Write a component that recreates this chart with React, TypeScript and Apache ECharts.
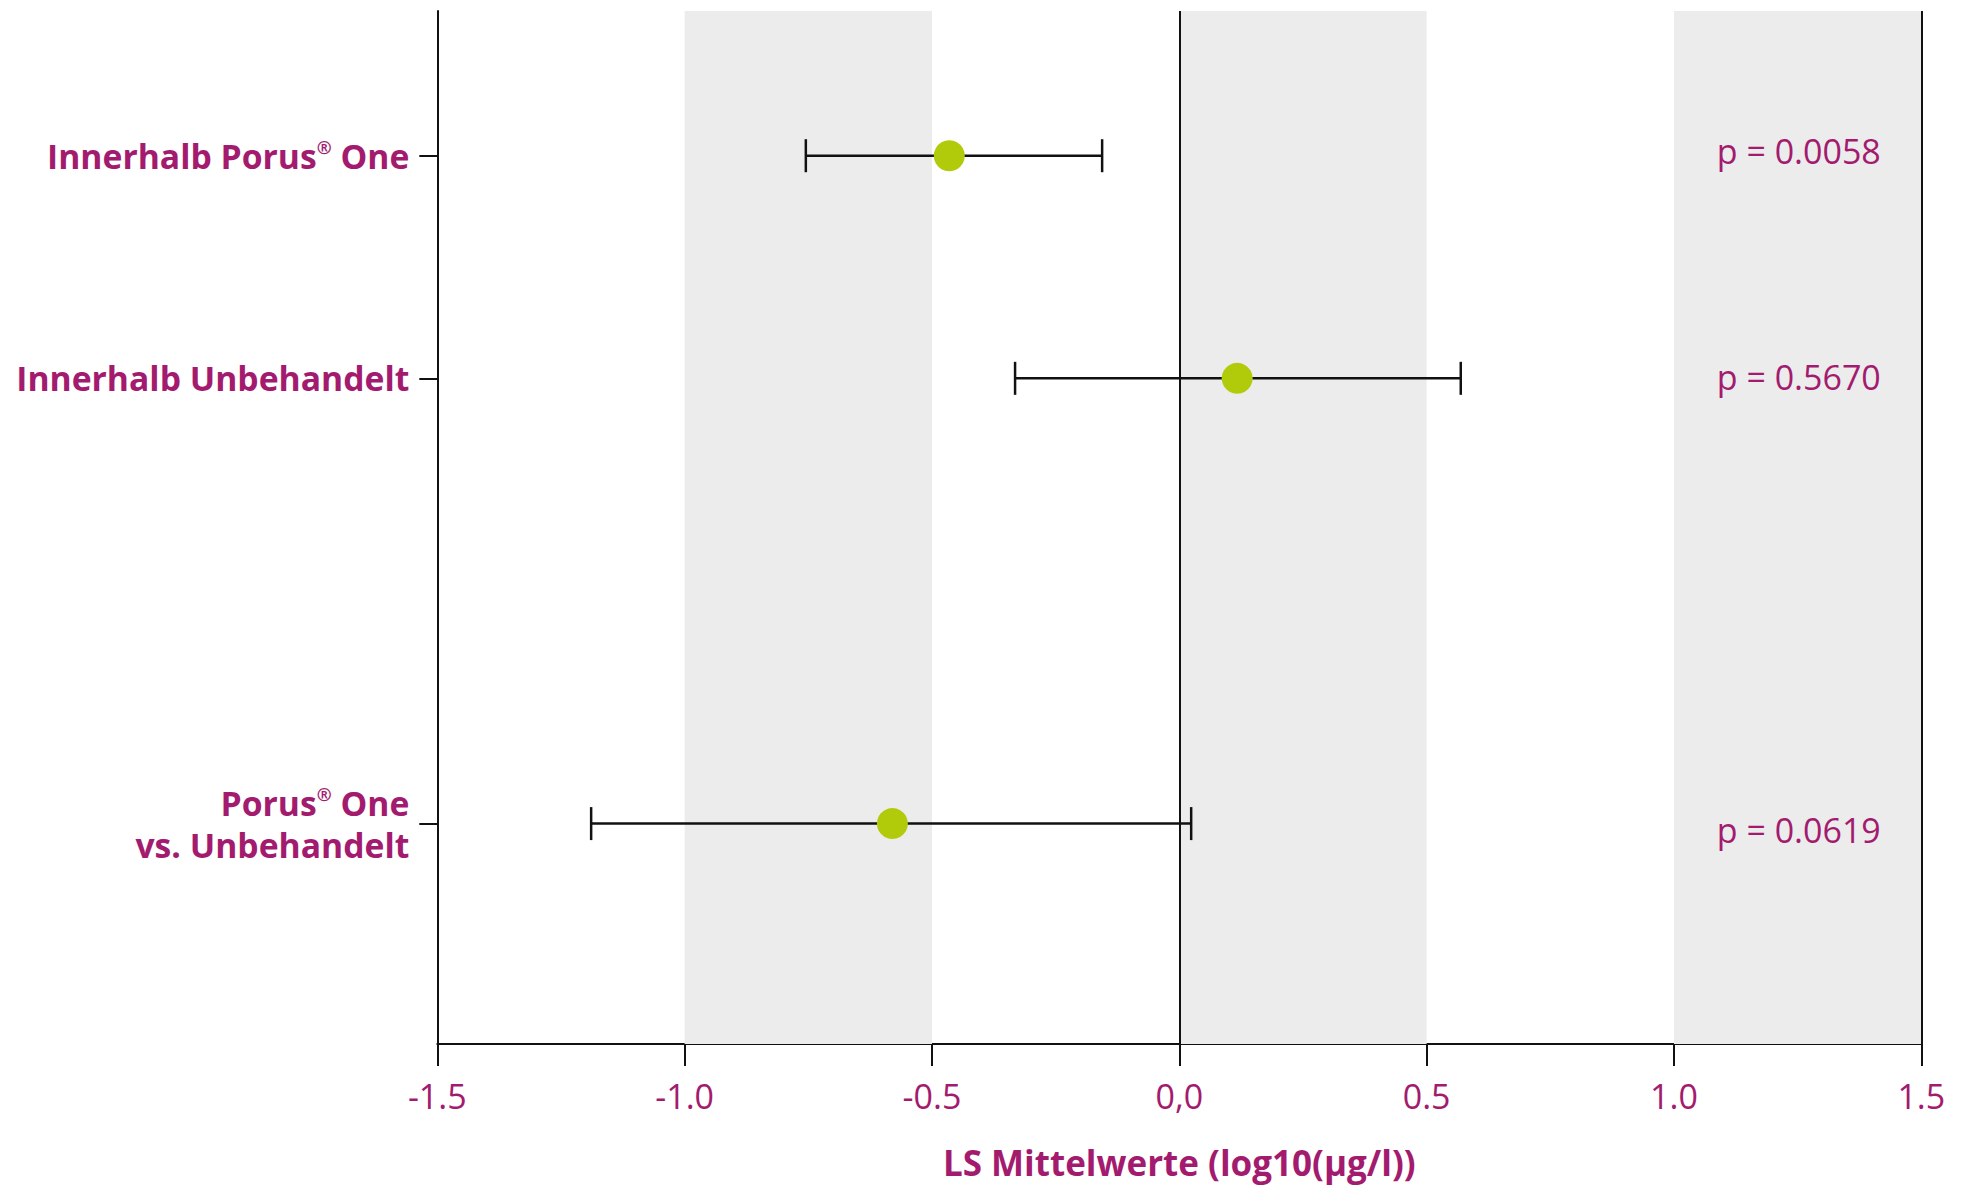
import React, { useEffect, useRef } from "react";
import * as echarts from "echarts";

const categories = ["Innerhalb Porus® One", "Innerhalb Unbehandelt", "Porus® One\nvs. Unbehandelt"];
const rowPositions = [1, 2, 4];
const means = [-0.465, 0.117, -0.58];
const lowerCI = [-0.755, -0.332, -1.189];
const upperCI = [-0.156, 0.569, 0.024];
const pValues = ["p = 0.0058", "p = 0.5670", "p = 0.0619"];
const xTickValues = [-1.5, -1, -0.5, 0, 0.5, 1, 1.5];
const xTickLabels = ["-1.5", "-1.0", "-0.5", "0,0", "0.5", "1.0", "1.5"];
const shadedBands = [[-1, -0.5], [0, 0.5], [1, 1.5]];
const referenceLines = [0, 1.5];
const xTitle = "LS Mittelwerte (log10(µg/l))";

// layout constants (not data)
const pLabelX = 1.0865;
const pLabelDy = [-5, -1, 6];

const MAGENTA = "#a31b6f";
const GREEN = "#b1cb0b";
const FONT = "Open Sans";

function richLabel(s: string): string {
  return s
    .split("\n")
    .map((line) =>
      line
        .split("®")
        .map((part) => (part ? `{b|${part}}` : ""))
        .join("{sup|®}")
    )
    .join("\n");
}

export default function App() {
  const ref = useRef<HTMLDivElement>(null);
  useEffect(() => {
    if (!ref.current) return;
    const chart = echarts.init(ref.current, null, { renderer: "svg" });
    const option: any = {
      animation: false,
      backgroundColor: "#ffffff",
      grid: { left: 437.3, right: 42.7, top: 11, bottom: 140, containLabel: false },
      xAxis: {
        type: "value",
        min: -1.5,
        max: 1.5,
        interval: 0.5,
        name: xTitle,
        nameLocation: "middle",
        nameGap: 101,
        nameTextStyle: { color: MAGENTA, fontFamily: FONT, fontWeight: "bold", fontSize: 35 },
        axisLine: { show: true, onZero: false, lineStyle: { color: "#111", width: 2 } },
        axisTick: { show: true, length: 22, lineStyle: { color: "#111", width: 2 } },
        axisLabel: {
          color: MAGENTA,
          fontFamily: FONT,
          fontSize: 34,
          margin: 35,
          formatter: (v: number) => {
            const i = xTickValues.findIndex((t) => Math.abs(t - v) < 1e-9);
            return i >= 0 ? xTickLabels[i] : "";
          },
        },
        splitLine: { show: false },
      },
      yAxis: {
        type: "value",
        inverse: true,
        min: 0.35,
        max: 4.99,
        axisLine: { show: true, onZero: false, lineStyle: { color: "#111", width: 2 } },
        axisTick: { show: true, length: 18, customValues: rowPositions, lineStyle: { color: "#111", width: 2 } },
        axisLabel: {
          show: true,
          customValues: rowPositions,
          margin: 28,
          align: "right",
          formatter: (v: number) => {
            const i = rowPositions.indexOf(v);
            return i >= 0 ? richLabel(categories[i]) : "";
          },
          rich: {
            b: { color: MAGENTA, fontFamily: FONT, fontWeight: "bold", fontSize: 33.7, lineHeight: 42, align: "right" },
            sup: { color: MAGENTA, fontFamily: FONT, fontWeight: "bold", fontSize: 18, lineHeight: 42, verticalAlign: "top", padding: [3, 0, 0, 0] },
          },
        },
        splitLine: { show: false },
      },
      series: [
        {
          type: "scatter",
          z: -1,
          data: [],
          silent: true,
          markArea: {
            silent: true,
            itemStyle: { color: "#ececec" },
            data: shadedBands.map((b) => [{ xAxis: b[0] }, { xAxis: b[1] }]),
          },
        },
        {
          type: "scatter",
          z: 1,
          data: [],
          silent: true,
          markLine: {
            silent: true,
            symbol: "none",
            label: { show: false },
            lineStyle: { color: "#111", width: 2, type: "solid" },
            data: referenceLines.map((x) => ({ xAxis: x })),
          },
        },
        {
          type: "custom",
          z: 3,
          clip: false,
          data: rowPositions.map((r, i) => [lowerCI[i], upperCI[i], r]),
          encode: { x: [0, 1], y: 2 },
          renderItem: (params: any, api: any) => {
            const lo = api.coord([api.value(0), api.value(2)]);
            const hi = api.coord([api.value(1), api.value(2)]);
            const st = { stroke: "#111", lineWidth: 2.5 };
            const h = 16.5;
            return {
              type: "group",
              children: [
                { type: "line", shape: { x1: lo[0], y1: lo[1], x2: hi[0], y2: hi[1] }, style: st },
                { type: "line", shape: { x1: lo[0], y1: lo[1] - h, x2: lo[0], y2: lo[1] + h }, style: st },
                { type: "line", shape: { x1: hi[0], y1: hi[1] - h, x2: hi[0], y2: hi[1] + h }, style: st },
              ],
            };
          },
        },
        {
          type: "scatter",
          z: 4,
          symbol: "circle",
          symbolSize: 31,
          itemStyle: { color: GREEN, opacity: 1 },
          data: rowPositions.map((r, i) => [means[i], r]),
        },
        {
          type: "custom",
          z: 5,
          clip: false,
          data: rowPositions.map((r) => [pLabelX, r]),
          encode: { x: 0, y: 1 },
          renderItem: (params: any, api: any) => {
            const p = api.coord([api.value(0), api.value(1)]);
            return {
              type: "text",
              x: p[0],
              y: p[1] + pLabelDy[params.dataIndex],
              style: {
                text: pValues[params.dataIndex],
                fill: MAGENTA,
                fontFamily: FONT,
                fontSize: 34,
                align: "left",
                verticalAlign: "middle",
              },
            };
          },
        },
      ],
    };
    chart.setOption(option);
    return () => chart.dispose();
  }, []);
  return (
    <div
      ref={ref}
      style={{ position: "absolute", left: 0, top: 0, width: 1964, height: 1185, background: "#fff" }}
    />
  );
}
